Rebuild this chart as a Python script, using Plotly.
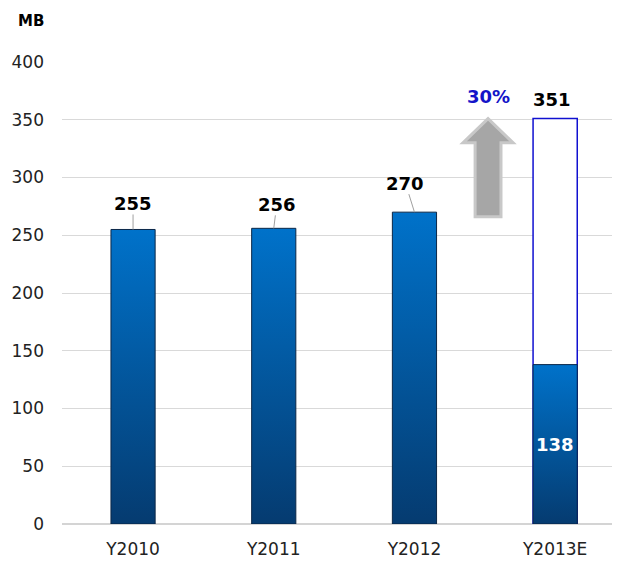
import plotly.graph_objects as go

# ---- data ----
categories = ["Y2010", "Y2011", "Y2012", "Y2013E"]
values = [255, 256, 270, 138]
forecast_total = 351
growth_label = "30%"
y_ticks = [0, 50, 100, 150, 200, 250, 300, 350, 400]
unit_label = "MB"

# ---- styles ----
FONT = "DejaVu Sans"
TOP = "#0072CA"
BOTTOM = "#053B70"
BAR_EDGE = "#0B2747"
BAR_HALF = 0.157

fig = go.Figure()

xs = list(range(len(categories)))

# forecast outline bar (white with blue border)
i3 = xs[-1]
fig.add_trace(go.Scatter(
    x=[i3 - BAR_HALF, i3 + BAR_HALF, i3 + BAR_HALF, i3 - BAR_HALF, i3 - BAR_HALF],
    y=[0, 0, forecast_total, forecast_total, 0],
    mode="lines", fill="toself", fillcolor="white",
    line=dict(color="#1010D0", width=1.5), hoverinfo="skip", showlegend=False))

# gradient bars
for i, v in zip(xs, values):
    fig.add_trace(go.Scatter(
        x=[i - BAR_HALF, i + BAR_HALF, i + BAR_HALF, i - BAR_HALF, i - BAR_HALF],
        y=[0, 0, v, v, 0],
        mode="lines", fill="toself",
        fillgradient=dict(type="vertical", colorscale=[[0, BOTTOM], [1, TOP]]),
        line=dict(color=BAR_EDGE, width=1), hoverinfo="skip", showlegend=False,
        name=categories[i]))

annotations = []
# labels with leader lines for the first three bars
offsets = [(0, -26), (3, -24), (-9, -29)]
for i, v, (ax, ay) in zip(xs[:3], values[:3], offsets):
    annotations.append(dict(
        x=i, y=v, xref="x", yref="y", text=f"<b>{v}</b>",
        showarrow=True, arrowhead=0, arrowwidth=1, arrowcolor="#A0A0A0",
        ax=ax, ay=ay, font=dict(family=FONT, size=18, color="black"),
        borderpad=0))
# forecast total label
annotations.append(dict(
    x=i3, y=forecast_total, xref="x", yref="y", text=f"<b>{forecast_total}</b>",
    showarrow=False, yanchor="middle", yshift=19, xshift=-3,
    font=dict(family=FONT, size=18, color="black")))
# inner value label
annotations.append(dict(
    x=i3, y=values[-1] / 2, xref="x", yref="y", text=f"<b>{values[-1]}</b>",
    showarrow=False, yanchor="middle",
    font=dict(family=FONT, size=18, color="white")))

# growth arrow
ax_c = 2.523
tip = forecast_total
head_base = tip - 21
bottom = values[2] - 4
sh, hh = 0.092, 0.178
path = (f"M {ax_c - sh},{bottom} L {ax_c + sh},{bottom} L {ax_c + sh},{head_base} "
        f"L {ax_c + hh},{head_base} L {ax_c},{tip} L {ax_c - hh},{head_base} "
        f"L {ax_c - sh},{head_base} Z")
shapes = [dict(type="path", path=path, xref="x", yref="y",
               fillcolor="#A6A6A6", line=dict(color="#C8C8C8", width=3), layer="above")]
annotations.append(dict(
    x=ax_c, y=370, xref="x", yref="y", text=f"<b>{growth_label}</b>",
    showarrow=False, yanchor="middle",
    font=dict(family=FONT, size=18, color="#1414C8")))

# unit label
annotations.append(dict(
    x=0, y=1, xref="paper", yref="paper", text=f"<b>{unit_label}</b>",
    showarrow=False, xanchor="center", yanchor="middle", xshift=-31, yshift=41,
    font=dict(family=FONT, size=15, color="black")))

fig.update_layout(
    width=633, height=561,
    margin=dict(l=54, r=29, t=54, b=45),
    paper_bgcolor="white", plot_bgcolor="white",
    font=dict(family=FONT, size=17, color="#222222"),
    shapes=shapes, annotations=annotations,
    xaxis=dict(range=[-0.505, 3.404], tickvals=xs, ticktext=categories,
               showgrid=False, zeroline=False, showline=False, ticks="",
               automargin=False,
               ticklabelstandoff=13, tickfont=dict(family=FONT, size=17, color="#222222"),
               fixedrange=True),
    yaxis=dict(range=[0, 400], tickvals=y_ticks, showgrid=True, gridcolor="#D9D9D9",
               gridwidth=1, zeroline=True, zerolinecolor="#D4D4D4", zerolinewidth=2,
               automargin=False,
               showline=False, ticks="", ticklabelstandoff=17,
               tickfont=dict(family=FONT, size=17, color="#222222"), fixedrange=True),
)

fig.write_html("out.html")
